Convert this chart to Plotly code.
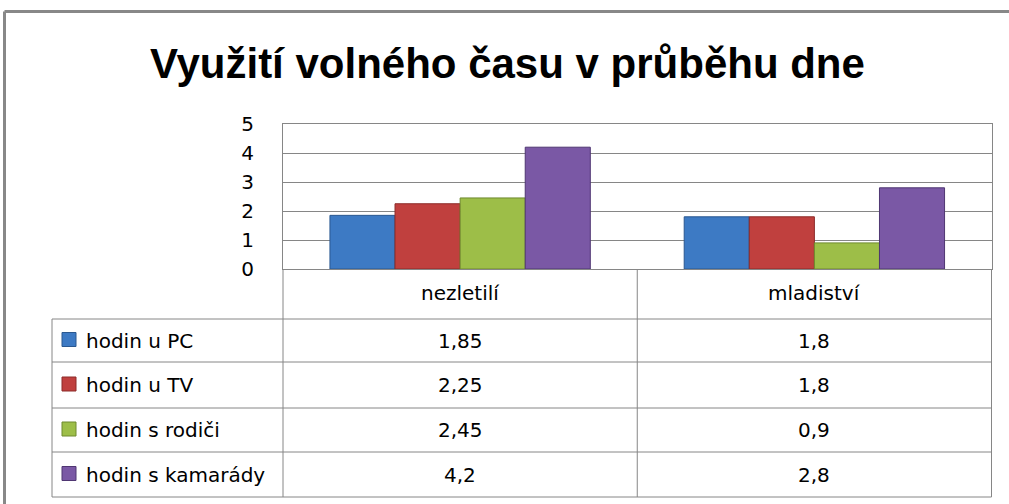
import plotly.graph_objects as go

# ---- data ----
categories = ["nezletilí", "mladiství"]
series_names = ["hodin u PC", "hodin u TV", "hodin s rodiči", "hodin s kamarády"]
values_pc = [1.85, 1.8]
values_tv = [2.25, 1.8]
values_parents = [2.45, 0.9]
values_friends = [4.2, 2.8]
value_labels = [["1,85", "1,8"], ["2,25", "1,8"], ["2,45", "0,9"], ["4,2", "2,8"]]
y_ticks = [0, 1, 2, 3, 4, 5]
title_text = "Využití volného času v průběhu dne"

series_values = [values_pc, values_tv, values_parents, values_friends]
fill_colors = ["#3D7AC4", "#C0403E", "#9DBE48", "#7A58A5"]
edge_colors = ["#2A5890", "#8C2B29", "#6E8A2E", "#4F3672"]

W, H = 1009, 504
def px(x):
    return x / W
def py(y):
    return 1 - y / H

FONT = "DejaVu Sans"
GRID = "#868686"

fig = go.Figure()
for name, vals, fc, ec in zip(series_names, series_values, fill_colors, edge_colors):
    fig.add_trace(go.Bar(
        x=categories, y=vals, name=name,
        marker=dict(color=fc, line=dict(color=ec, width=1)),
        showlegend=False,
    ))

shapes = []
# outer chart border (gray, partially cut off)
shapes.append(dict(type="line", xref="paper", yref="paper",
                   x0=px(4.5), x1=px(1012), y0=py(11.5), y1=py(11.5),
                   line=dict(color="#888888", width=3)))
shapes.append(dict(type="line", xref="paper", yref="paper",
                   x0=px(4.5), x1=px(4.5), y0=py(11.5), y1=py(510),
                   line=dict(color="#888888", width=3)))

# data table lines
row_lines = [319, 362, 408, 452, 497]
for yy in row_lines:
    shapes.append(dict(type="line", xref="paper", yref="paper",
                       x0=px(52), x1=px(991.5), y0=py(yy), y1=py(yy),
                       line=dict(color=GRID, width=1)))
for xx in [283, 991.5]:
    shapes.append(dict(type="line", xref="paper", yref="paper",
                       x0=px(xx), x1=px(xx), y0=py(269), y1=py(497),
                       line=dict(color=GRID, width=1)))
shapes.append(dict(type="line", xref="x", yref="paper",
                   x0=0.5, x1=0.5, y0=py(269), y1=py(497),
                   line=dict(color=GRID, width=1)))
shapes.append(dict(type="line", xref="paper", yref="paper",
                   x0=px(52), x1=px(52), y0=py(319), y1=py(497),
                   line=dict(color=GRID, width=1)))

annotations = []
annotations.append(dict(text=title_text, xref="paper", yref="paper",
                        x=px(507), y=py(63), xanchor="center", yanchor="middle",
                        showarrow=False,
                        font=dict(family="Liberation Sans", size=42, color="#000000", weight="bold")))
# category header
for c in categories:
    annotations.append(dict(text=c, xref="x", yref="paper", x=c, y=py(293),
                            xanchor="center", yanchor="middle", showarrow=False,
                            font=dict(family=FONT, size=20, color="#000000")))
# rows
row_centers = [340.5, 385, 430, 474.5]
for i, (name, labels) in enumerate(zip(series_names, value_labels)):
    yc = row_centers[i]
    annotations.append(dict(text=name, xref="paper", yref="paper", x=px(84), y=py(yc),
                            xanchor="left", yanchor="middle", showarrow=False,
                            font=dict(family=FONT, size=20, color="#000000")))
    for c, lab in zip(categories, labels):
        annotations.append(dict(text=lab, xref="x", yref="paper", x=c, y=py(yc),
                                xanchor="center", yanchor="middle", showarrow=False,
                                font=dict(family=FONT, size=20, color="#000000")))
    # legend key
    shapes.append(dict(type="rect", xref="paper", yref="paper",
                       x0=px(62), x1=px(76), y0=py(yc - 8), y1=py(yc + 6),
                       fillcolor=fill_colors[i], line=dict(color=edge_colors[i], width=1)))

fig.update_layout(
    width=W, height=H, autosize=False,
    margin=dict(l=0, r=0, t=0, b=0, pad=0, autoexpand=False),
    paper_bgcolor="white", plot_bgcolor="white",
    barmode="group", bargap=0.265, bargroupgap=0,
    shapes=shapes, annotations=annotations,
    xaxis=dict(domain=[px(283), px(991.5)], showticklabels=False, showgrid=False,
               showline=True, mirror=True, linecolor=GRID, linewidth=1, ticks="",
               zeroline=False, automargin=False),
    yaxis=dict(domain=[py(269), py(124)], range=[0, 5], tickvals=y_ticks,
               showgrid=True, gridcolor=GRID, gridwidth=1,
               showline=True, mirror=True, linecolor=GRID, linewidth=1,
               ticks="", ticklabelstandoff=24, zeroline=False, automargin=False,
               tickfont=dict(family=FONT, size=20, color="#000000")),
)

fig.write_html("out.html", config={"displayModeBar": False},
               post_script="document.body.style.margin='0';")
